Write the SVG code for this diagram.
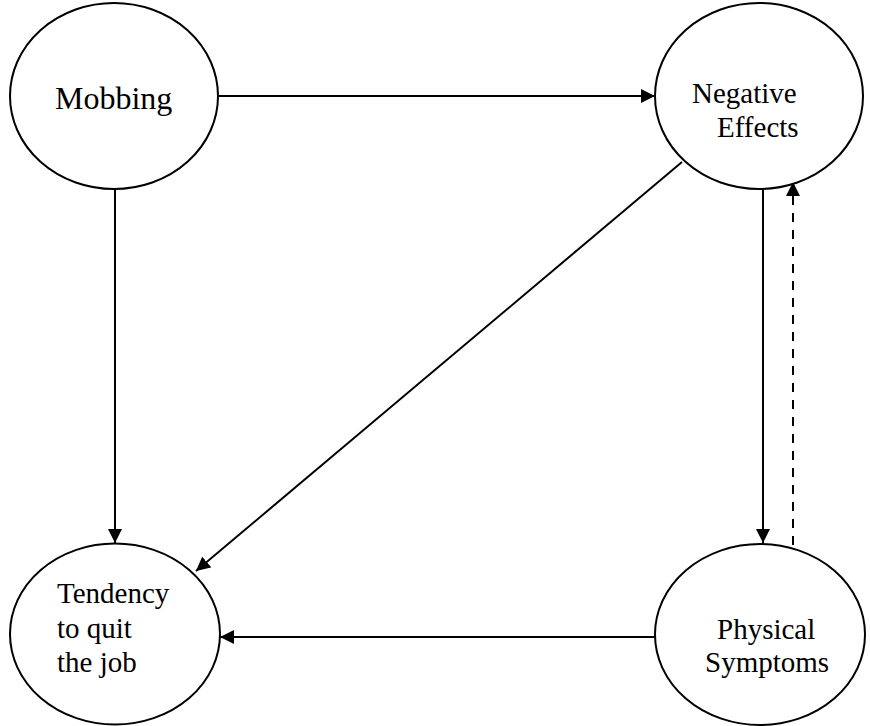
<svg xmlns="http://www.w3.org/2000/svg" width="870" height="726" viewBox="0 0 870 726">
  <style>
    .node ellipse { fill: #fff; stroke: #000; stroke-width: 2; }
    .node text { font-family: "Liberation Serif", "Times New Roman", serif; fill: #000; }
    .edge { fill: none; stroke: #000; stroke-width: 2; marker-end: url(#arrow); }
    .dashed { stroke-dasharray: 9 8; }
  </style>
  <defs>
    <marker id="arrow" markerUnits="userSpaceOnUse" markerWidth="15" markerHeight="14" refX="14" refY="7" orient="auto">
      <path d="M0,0 L14,7 L0,14 Z" fill="#000"/>
    </marker>
  </defs>
  <rect width="870" height="726" fill="#fff"/>

  <g id="connectors">
    <line class="edge" x1="219" y1="96" x2="655" y2="96"/>
    <line class="edge" x1="115" y1="189" x2="115" y2="543"/>
    <line class="edge" x1="682" y1="162" x2="196" y2="571"/>
    <line class="edge" x1="763" y1="189" x2="763" y2="543"/>
    <line class="edge dashed" x1="793" y1="545" x2="793" y2="182"/>
    <line class="edge" x1="655" y1="637" x2="220" y2="637"/>
  </g>

  <g id="mobbing" class="node">
    <ellipse cx="114" cy="96" rx="104" ry="93"/>
    <text x="55" y="109" font-size="32">Mobbing</text>
  </g>

  <g id="negative-effects" class="node">
    <ellipse cx="759" cy="96" rx="104" ry="93"/>
    <text x="692" y="103" font-size="29">Negative</text>
    <text x="717" y="137" font-size="29">Effects</text>
  </g>

  <g id="tendency" class="node">
    <ellipse cx="115" cy="634" rx="105" ry="90.5"/>
    <text x="57" y="603" font-size="29">Tendency</text>
    <text x="57" y="638" font-size="29">to quit</text>
    <text x="57" y="672" font-size="29">the job</text>
  </g>

  <g id="physical-symptoms" class="node">
    <ellipse cx="760" cy="634.5" rx="105" ry="90.5"/>
    <text x="717" y="639" font-size="29">Physical</text>
    <text x="705" y="672" font-size="29">Symptoms</text>
  </g>
</svg>
